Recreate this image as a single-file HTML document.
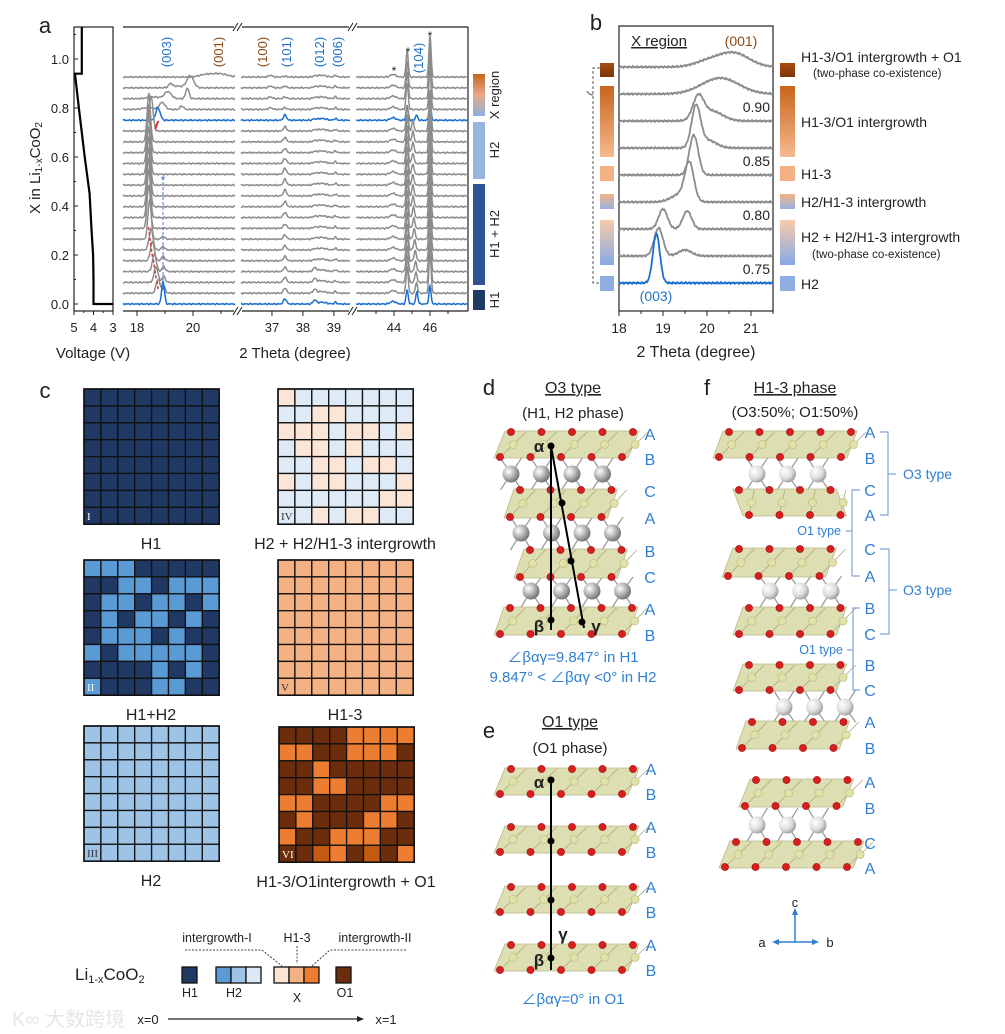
<!DOCTYPE html>
<html><head><meta charset="utf-8">
<style>
html,body{margin:0;padding:0;background:#fff;}
svg{display:block;font-family:"Liberation Sans","Noto Sans CJK SC",sans-serif;}
</style></head>
<body>
<svg id="fig" width="1005" height="1034" viewBox="0 0 1005 1034" xmlns="http://www.w3.org/2000/svg">
<defs>
<radialGradient id="sph" cx="0.35" cy="0.35" r="0.7"><stop offset="0" stop-color="#ffffff"/><stop offset="0.5" stop-color="#b8b8b8"/><stop offset="1" stop-color="#6e6e6e"/></radialGradient>
<radialGradient id="sphL" cx="0.35" cy="0.35" r="0.7"><stop offset="0" stop-color="#ffffff"/><stop offset="0.6" stop-color="#dcdcdc"/><stop offset="1" stop-color="#9a9a9a"/></radialGradient>
<linearGradient id="gX" x1="0" y1="0" x2="0" y2="1"><stop offset="0" stop-color="#c8651c"/><stop offset="0.5" stop-color="#e8a98a"/><stop offset="1" stop-color="#8eaee2"/></linearGradient>
<linearGradient id="gBrown" x1="0" y1="0" x2="0" y2="1"><stop offset="0" stop-color="#a84d12"/><stop offset="1" stop-color="#7a350a"/></linearGradient>
<linearGradient id="gOr" x1="0" y1="0" x2="0" y2="1"><stop offset="0" stop-color="#c8651c"/><stop offset="1" stop-color="#f6b98e"/></linearGradient>
<linearGradient id="gPB" x1="0" y1="0" x2="0" y2="1"><stop offset="0" stop-color="#f4b183"/><stop offset="1" stop-color="#9ab2e6"/></linearGradient>
<linearGradient id="gPB2" x1="0" y1="0" x2="0" y2="1"><stop offset="0" stop-color="#f8cba8"/><stop offset="1" stop-color="#86a9e6"/></linearGradient>
</defs>
<g id="root"></g>
</svg>
<script>
// ===== Panel a data =====
const voltV = [3.0, 4.0, 4.0, 4.02, 4.1, 4.2, 4.45, 4.6, 4.75, 4.95, 4.6, 4.6, 4.6];
const voltX = [0.0, 0.0, 0.1, 0.2, 0.3, 0.45, 0.6, 0.7, 0.8, 0.94, 0.94, 1.0, 1.13];
const yTicks = [0.0, 0.2, 0.4, 0.6, 0.8, 1.0];
const vTicks = [5, 4, 3];
const nTraces = 22;
const blueTraces = [0, 17];
const p003 = [18.93,18.75,18.68,18.62,18.55,18.5,18.45,18.42,18.42,18.42,18.42,18.42,18.42,18.42,18.42,18.42,18.5,18.75,18.9,19.1,19.9,20.9];
const h003 = [26,16,18,20,22,24,45,50,55,55,55,55,55,55,55,55,40,14,8,8,14,4];
const w003 = [0.05,0.07,0.07,0.07,0.07,0.07,0.06,0.06,0.06,0.06,0.06,0.06,0.06,0.06,0.06,0.06,0.07,0.08,0.1,0.12,0.12,0.3];
const p2nd = [0,18.95,18.95,18.95,18.93,18.93,18.93,0,0,0,0,0,0,0,0,0,0,0,19.6,19.8,19.2,0];
const h2nd = [0,8,7,6,5,4,3,0,0,0,0,0,0,0,0,0,0,0,4,12,4,0];
const p101 = 37.42;
const h101 = [6,6,6,5,5,5,5,5,6,6,7,7,7,6,5,5,5,6,2,2,2,1];
const p104 = [45.27,45.25,45.22,45.2,45.18,45.15,45.12,45.1,45.08,45.06,45.05,45.05,45.05,45.05,45.05,45.05,45.05,45.25,0,0,0,0];
const h104 = [14,12,12,12,12,12,12,12,12,12,12,12,12,12,12,12,12,6,0,0,0,0];
const starPos = [44.73, 46.0];
const starH = [30, 48];
const breakX = [[17.5,21.5],[36.0,39.52],[41.89,48.11]];
const xTicksA = [[18,19,20,21],[37,38,39],[43,44,45,46,47]];
const xLabA = [[18,20],[37,38,39],[44,46]];
// ===== Panel b data =====
const bLabels = ["0.90","0.85","0.80","0.75"];
const bPeaks = [
 [[20.6,14,0.35],[20.0,5,0.3]],
 [[20.3,16,0.42]],
 [[19.8,22,0.12],[20.1,10,0.25]],
 [[19.75,40,0.1],[20.0,8,0.2]],
 [[19.7,40,0.1]],
 [[19.6,36,0.1],[19.4,8,0.2]],
 [[19.0,20,0.1],[19.55,18,0.1]],
 [[18.9,28,0.1],[19.5,6,0.15]],
 [[18.85,49,0.08]]
];
const bTicks = [18,19,20,21];

const NS="http://www.w3.org/2000/svg";
const root=document.getElementById('root');
function el(tag,attrs,parent,text){const e=document.createElementNS(NS,tag);for(const k in attrs)e.setAttribute(k,attrs[k]);if(text!==undefined)e.textContent=text;(parent||root).appendChild(e);return e;}
function txt(x,y,s,size,opts,parent){opts=opts||{};const a={x:x,y:y,'font-size':size,fill:opts.fill||'#222','text-anchor':opts.anchor||'middle'};if(opts.rot)a.transform='rotate('+opts.rot+' '+x+' '+y+')';if(opts.weight)a['font-weight']=opts.weight;if(opts.deco)a['text-decoration']=opts.deco;const t=el('text',a,parent,s);return t;}
function g(name,parent){const e=el('g',{},parent);return e;}
const BLUE='#1f73c8', LBLUE='#2f7fd0', BROWN='#8b4a17';

// ===================== PANEL A =====================
const pa=g('panel-a');
let t=txt(45,33,'a',22,{},pa);
const TOP=27, BOT=311, HS=0.87;
const vx=v=>74+(5-v)*19.5, yA=x=>304-x*245;
const vp=g('voltage-plot',pa);
el('rect',{x:74,y:TOP,width:39,height:BOT-TOP,fill:'none',stroke:'#222','stroke-width':1.2},vp);
let d='';voltV.forEach((v,i)=>{d+=(i?'L':'M')+vx(v)+','+yA(voltX[i]);});
const vc=el('path',{d:d,fill:'none',stroke:'#000','stroke-width':2.2},vp);

yTicks.forEach(v=>{el('line',{x1:74,x2:78,y1:yA(v),y2:yA(v),stroke:'#222'},vp);txt(69,yA(v)+5,v.toFixed(1),13,{anchor:'end'},vp);});
[0.1,0.3,0.5,0.7,0.9,1.1].forEach(v=>el('line',{x1:74,x2:76,y1:yA(v),y2:yA(v),stroke:'#222'},vp));
vTicks.forEach(v=>{el('line',{x1:vx(v),x2:vx(v),y1:BOT,y2:BOT+4,stroke:'#222'},vp);txt(vx(v),332,String(v),13,{},vp);});
[4.5,3.5].forEach(v=>el('line',{x1:vx(v),x2:vx(v),y1:BOT,y2:BOT+2,stroke:'#222'},vp));
t=txt(40,168,'',15,{rot:-90},vp);
t.innerHTML='X in Li<tspan font-size="10" dy="2">1-x</tspan><tspan dy="-2">CoO</tspan><tspan font-size="10" dy="2">2</tspan>';
t=txt(93,358,'Voltage (V)',15,{},vp);

const segs=[[123,235],[241,350],[356,468]];
function sx(s,v){const b=breakX[s];return segs[s][0]+(v-b[0])/(b[1]-b[0])*(segs[s][1]-segs[s][0]);}
const baseY=i=>yA(i*0.75/17);
const xp=g('xrd-plot',pa);
segs.forEach((s,k)=>{
 el('line',{x1:s[0],x2:s[1],y1:TOP,y2:TOP,stroke:'#222','stroke-width':1.2},xp);
 el('line',{x1:s[0],x2:s[1],y1:BOT,y2:BOT,stroke:'#222','stroke-width':1.2},xp);
 xTicksA[k].forEach(v=>{const x=sx(k,v);el('line',{x1:x,x2:x,y1:BOT,y2:xLabA[k].includes(v)?BOT+5:BOT+3,stroke:'#222'},xp);});
 xLabA[k].forEach(v=>txt(sx(k,v),332,String(v),13,{},xp));
});
el('line',{x1:468,x2:468,y1:TOP,y2:BOT,stroke:'#222','stroke-width':1.2},xp);
[[236,TOP],[351,TOP],[236,BOT],[351,BOT]].forEach(p=>{el('rect',{x:p[0]-2,y:p[1]-4,width:8,height:8,fill:'#fff'},xp);
 el('line',{x1:p[0]-3,y1:p[1]+4,x2:p[0]+2,y2:p[1]-4,stroke:'#222'},xp);el('line',{x1:p[0]+1,y1:p[1]+4,x2:p[0]+6,y2:p[1]-4,stroke:'#222'},xp);});
const gauss=(x,c,h,w)=>h*Math.exp(-((x-c)*(x-c))/(2*w*w));
for(let i=nTraces-1;i>=0;i--){
 const isBlue=blueTraces.includes(i);
 const tg=g('xrd-trace-'+i,xp);
 for(let s=0;s<3;s++){
  let dd='';
  for(let px=segs[s][0];px<=segs[s][1];px+=0.5){
   const v=breakX[s][0]+(px-segs[s][0])/(segs[s][1]-segs[s][0])*(breakX[s][1]-breakX[s][0]);
   let y=0;
   if(s===0){y+=gauss(v,p003[i],h003[i],w003[i]);if(p2nd[i])y+=gauss(v,p2nd[i],h2nd[i],0.06);
     if(i>=18)y+=gauss(v,p003[i]-0.5,2,0.2);}
   if(s===1){y+=gauss(v,p101,h101[i],0.05);y+=gauss(v,38.6,2,0.15);y+=gauss(v,38.38,i<4?4:1,0.05);y+=gauss(v,39.05,2,0.04);if(i>=18)y+=gauss(v,36.95,2,0.06);}
   if(s===2){starPos.forEach((c,k)=>{y+=gauss(v,c,isBlue&&k===0?16:(isBlue?20:starH[k]),0.06);});if(p104[i])y+=gauss(v,p104[i],h104[i],0.06);y+=gauss(v,43.95,3,0.15);}
   y*=HS;
   y+=0.7*Math.sin(px*1.7+i)*Math.sin(px*0.37);
   dd+=(dd?'L':'M')+px.toFixed(1)+','+(baseY(i)-y).toFixed(1);
  }
  el('path',{d:dd,fill:'none',stroke:isBlue?'#1a6fd0':'#8c8c8c','stroke-width':1.5},tg);
 }
}
for(let i=1;i<=6;i++){const x=sx(0,p003[i]);el('line',{x1:x-1,y1:baseY(i)-12,x2:x,y2:baseY(i)-4,stroke:'#e03030','stroke-width':1.5,'stroke-dasharray':'3,2'},xp);}
el('line',{x1:sx(0,18.93),x2:sx(0,18.93),y1:baseY(11)-8,y2:baseY(1)-2,stroke:'#5a7fd0','stroke-width':1.1,'stroke-dasharray':'3,2'},xp);
txt(sx(0,18.93),baseY(11)-1,'*',12,{fill:'#5a7fd0'},xp);
el('path',{d:'M'+(sx(0,18.65))+','+(baseY(16)-2)+' l3,-8',stroke:'#e03030','stroke-width':2},xp);
[['(003)',166,BLUE],['(001)',218,BROWN],['(100)',262,BROWN],['(101)',286,BLUE],['(012)',319,BLUE],['(006)',337,BLUE],['(104)',418,BLUE]].forEach(p=>{
 const tt=txt(p[1]+5,p[0]==='(104)'?58:52,p[0],13,{rot:-90,fill:p[2]},xp);});
[[394,75],[408,56],[430,40]].forEach(p=>txt(p[0],p[1],'*',12,{},xp));
t=txt(295,358,'2 Theta (degree)',15,{},xp);
const cb=g('phase-colorbar',pa);
[[74,116,'url(#gX)','X region',95],[122,179,'#9ab4e0','H2',150],[184,285,'#2e5591','H1 + H2',234],[290,310,'#1f3864','H1',300]].forEach(r=>{
 const re=el('rect',{x:473,y:r[0],width:12,height:r[1]-r[0],fill:r[2]},cb);
 txt(499,r[4],r[3],13,{rot:-90},cb);
});

// ===================== PANEL B =====================
const pb=g('panel-b');
txt(596,30,'b',22,{},pb);
const bx=v=>619+(v-18)*44;
el('rect',{x:619,y:26,width:154,height:285,fill:'none',stroke:'#222','stroke-width':1.2},pb);
bTicks.forEach(v=>{el('line',{x1:bx(v),x2:bx(v),y1:311,y2:316,stroke:'#222'},pb);txt(bx(v),333,String(v),14,{},pb);});
[18.5,19.5,20.5,21.5].forEach(v=>el('line',{x1:bx(v),x2:bx(v),y1:311,y2:314,stroke:'#222'},pb));
t=txt(696,357,'2 Theta (degree)',16,{},pb);
bPeaks.forEach((pk,i)=>{
 const by=67+i*27;let dd='';
 for(let px=619;px<=773;px+=0.5){const v=18+(px-619)/44;let y=0;pk.forEach(p=>y+=gauss(v,p[0],p[1],p[2]));y+=0.9*Math.sin(px*2.3+i*3)*Math.cos(px*0.71);dd+=(dd?'L':'M')+px.toFixed(1)+','+(by-y).toFixed(1);}
 const pe=el('path',{d:dd,fill:'none',stroke:i===8?'#1a6fd0':'#8c8c8c','stroke-width':1.8},pb);
 
});
bLabels.forEach((l,k)=>txt(770,112+k*54,l,14,{anchor:'end'},pb));
txt(659,46,'X region',15,{deco:'underline'},pb);
txt(741,46,'(001)',14,{fill:BROWN},pb);
txt(656,301,'(003)',14,{fill:BLUE},pb);
const bars=[[63,77,'url(#gBrown)'],[86,157,'url(#gOr)'],[166,181,'#f4b183'],[194,209,'url(#gPB)'],[220,265,'url(#gPB2)'],[276,291,'#8eaee2']];
bars.forEach(b=>{el('rect',{x:600,y:b[0],width:14,height:b[1]-b[0],fill:b[2]},pb);el('rect',{x:780,y:b[0],width:15,height:b[1]-b[0],fill:b[2]},pb);});
el('path',{d:'M600,68 H593 V283 H600',fill:'none',stroke:'#555','stroke-dasharray':'3,2'},pb);
el('path',{d:'M593,95 q-4,0 -6,-4',fill:'none',stroke:'#555'},pb);
[['H1-3/O1 intergrowth + O1',801,62,14],['(two-phase co-existence)',813,77,11.5],['H1-3/O1 intergrowth',801,127,14],['H1-3',801,179,14],['H2/H1-3 intergrowth',801,207,14],['H2 + H2/H1-3 intergrowth',801,242,14],['(two-phase co-existence)',812,258,11.5],['H2',801,289,14]].forEach(l=>{
 const tt=txt(l[1],l[2],l[0],l[3],{anchor:'start'},pb);});

// ===================== PANEL C =====================
const pc=g('panel-c');
txt(45,398,'c',22,{},pc);
const C={D:'#1f3864',L:'#5b9bd5',S:'#9dc3e6',P:'#fbe5d6',B:'#deebf7',V:'#f4b183',R:'#6b2d0c',O:'#ed7d31',Q:'#c55a11'};
const grids=[
 {x:84,y:389,rows:Array(8).fill('DDDDDDDD'),lab:'I',name:'H1'},
 {x:278,y:389,rows:['PBBBBBBB','BBPPBBBB','PPPBPPBP','BPPBPBBB','BBPPBPPB','PBPPBBBP','BBBBBBPP','BBPBPPBB'],lab:'IV',name:'H2 + H2/H1-3 intergrowth'},
 {x:84,y:560,rows:['LLLDDDDD','DDLLDLLL','DLLDLLDL','DLDLLDLD','DLLLDLDD','LDLLLLLD','DDDDLDLD','LDDDLLDD'],lab:'II',name:'H1+H2'},
 {x:278,y:560,rows:Array(8).fill('VVVVVVVV'),lab:'V',name:'H1-3'},
 {x:84,y:726,rows:Array(8).fill('SSSSSSSS'),lab:'III',name:'H2'},
 {x:279,y:727,rows:['RRRROOOO','OORROOOR','RRORRRRR','RROORRRR','OORRRROO','RORRROOR','ORROOORR','RRQORQRO'],lab:'VI',name:'H1-3/O1intergrowth + O1'}
];
grids.forEach(G=>{
 const gg=g('grid-'+G.lab.toLowerCase(),pc);
 const cs=16.9;
 G.rows.forEach((r,ri)=>{for(let ci=0;ci<8;ci++){el('rect',{x:G.x+ci*cs,y:G.y+ri*cs,width:cs,height:cs,fill:C[r[ci]],stroke:'#111','stroke-width':1.3},gg);}});
 el('rect',{x:G.x,y:G.y,width:cs*8,height:cs*8,fill:'none',stroke:'#111','stroke-width':1.6},gg);
 const dark=['I','II','VI'].includes(G.lab);
 txt(G.x+3,G.y+8*cs-4,G.lab,11,{anchor:'start',fill:dark?'#fff':'#333'},gg).setAttribute('font-family','Liberation Serif, serif');
 const lt=txt(G.x+67,G.y+cs*8+25,G.name,16,{},gg);
});
const lg=g('composition-legend',pc);
txt(217,942,'intergrowth-I',12.5,{},lg);txt(297,942,'H1-3',12.5,{},lg);txt(375,942,'intergrowth-II',12.5,{},lg);
el('path',{d:'M185,950 H262 L282,966',fill:'none',stroke:'#444','stroke-dasharray':'2,1.5'},lg);
el('path',{d:'M297,946 V964',fill:'none',stroke:'#444','stroke-dasharray':'2,1.5'},lg);
el('path',{d:'M406,950 H330 L312,966',fill:'none',stroke:'#444','stroke-dasharray':'2,1.5'},lg);
t=txt(75,980,'',17,{anchor:'start'},lg);t.innerHTML='Li<tspan font-size="11" dy="3">1-x</tspan><tspan dy="-3">CoO</tspan><tspan font-size="11" dy="3">2</tspan>';
[[182,C.D],[216,C.L],[231,C.S],[246,'#dce8f6'],[274,C.P],[289,C.V],[304,C.O],[336,C.R]].forEach(b=>el('rect',{x:b[0],y:967,width:15,height:16,fill:b[1],stroke:'#111','stroke-width':1.3},lg));
txt(190,997,'H1',12.5,{},lg);txt(234,997,'H2',12.5,{},lg);txt(297,1002,'X',12.5,{},lg);txt(345,997,'O1',12.5,{},lg);
txt(148,1024,'x=0',13,{},lg);txt(386,1024,'x=1',13,{},lg);
el('line',{x1:168,x2:358,y1:1019,y2:1019,stroke:'#222','stroke-width':1.3},lg);
el('path',{d:'M364,1019 l-7,-3 v6 z',fill:'#222'},lg);
txt(12,1026,'K∞ 大数跨境',20,{anchor:'start',fill:'#e6e6e6'},lg);

// ===================== STRUCTURES =====================
function slab(parent,xT,yT,nT,xB,yB,nB){
 const sp=30.5;
 el('polygon',{points:[xB-6,yB+1, xB+(nB-1)*sp+6,yB+1, xT+(nT-1)*sp+6,yT-1, xT-6,yT-1].join(','),fill:'#d8d8a6','fill-opacity':0.85,stroke:'#b9b98a','stroke-width':0.8},parent);
 for(let k=0;k<nB;k++){const x=xB+k*sp;el('line',{x1:x,y1:yB,x2:x+(xT-xB)+sp/2,y2:yT,stroke:'#a9a97a','stroke-width':0.8},parent);
   el('circle',{cx:x+(xT-xB)/2+sp/4,cy:(yT+yB)/2,r:4,fill:'#e2e2a8',stroke:'#c2c28c','stroke-width':0.8},parent);}
 for(let k=0;k<nT;k++)el('circle',{cx:xT+k*sp,cy:yT,r:3.6,fill:'#d81e1e',stroke:'#9a1010','stroke-width':0.6},parent);
 for(let k=0;k<nB;k++)el('circle',{cx:xB+k*sp,cy:yB,r:3.6,fill:'#d81e1e',stroke:'#9a1010','stroke-width':0.6},parent);
}
function spheres(parent,x0,y,n,yUp,yDn,light){
 for(let k=0;k<n;k++){const x=x0+k*30.5;
  [[-15,yUp],[15,yUp],[-15,yDn],[15,yDn]].forEach(o=>{el('line',{x1:x,y1:y,x2:x+o[0]*0.7,y2:o[1],stroke:'#999','stroke-width':1.2},parent);});
  el('circle',{cx:x,cy:y,r:8.5,fill:light?'url(#sphL)':'url(#sph)'},parent);}
}
function letters(parent,x,list){list.forEach(l=>txt(x,l[1]+6,l[0],16,{fill:LBLUE},parent));}

const pd=g('panel-d');
txt(489,395,'d',22,{},pd);
txt(573,393,'O3 type',16,{deco:'underline'},pd);
txt(573,418,'(H1, H2 phase)',15,{},pd);
spheres(pd,511,474,4,458,490);spheres(pd,521,533,4,517,550);spheres(pd,531,591,4,577,608);
slab(pd,511,432,5,500,457,5);slab(pd,520,490,4,510,517,4);slab(pd,530,550,4,520,577,4);slab(pd,510,608,5,500,634,5);
letters(pd,650,[['A',434],['B',459],['C',491],['A',518],['B',551],['C',577],['A',609],['B',635]]);
el('line',{x1:551,y1:446,x2:551,y2:630,stroke:'#000','stroke-width':2},pd);
el('line',{x1:551,y1:446,x2:584,y2:628,stroke:'#000','stroke-width':2},pd);
[[551,446],[551,620],[562,503],[571,561],[582,622]].forEach(p=>el('circle',{cx:p[0],cy:p[1],r:3.5,fill:'#000'},pd));
txt(539,452,'α',17,{weight:'bold'},pd);txt(539,632,'β',17,{weight:'bold'},pd);txt(596,632,'γ',17,{weight:'bold'},pd);
txt(573,662,'∠βαγ=9.847° in H1',15,{fill:LBLUE},pd);
txt(573,682,'9.847° < ∠βαγ <0° in H2',15,{fill:LBLUE},pd);

const pe=g('panel-e');
txt(489,738,'e',22,{},pe);
txt(570,727,'O1 type',16,{deco:'underline'},pe);
txt(570,753,'(O1 phase)',15,{},pe);
[769,827,887,945].forEach(y=>slab(pe,511,y,5,500,y+25,5));
letters(pe,651,[['A',769],['B',794],['A',827],['B',852],['A',887],['B',912],['A',945],['B',970]]);
el('line',{x1:551,y1:780,x2:551,y2:970,stroke:'#000','stroke-width':2},pe);
[[551,780],[551,841],[551,900],[551,958]].forEach(p=>el('circle',{cx:p[0],cy:p[1],r:3.5,fill:'#000'},pe));
txt(539,788,'α',17,{weight:'bold'},pe);txt(539,966,'β',17,{weight:'bold'},pe);txt(563,940,'γ',17,{weight:'bold'},pe);
txt(573,1004,'∠βαγ=0° in O1',15,{fill:LBLUE},pe);

const pf=g('panel-f');
txt(707,395,'f',22,{},pf);
txt(795,393,'H1-3 phase',16,{deco:'underline'},pf);
txt(795,417,'(O3:50%; O1:50%)',15,{},pf);
spheres(pf,757,474,3,458,490,true);spheres(pf,770,591,3,576,608,true);spheres(pf,784,707,3,690,722,true);spheres(pf,757,825,3,808,842,true);
slab(pf,729,432,5,719,457,5);slab(pf,739,490,4,749,515,4);slab(pf,739,549,4,728,576,4);slab(pf,749,608,4,739,634,4);
slab(pf,749,665,4,739,690,4);slab(pf,752,722,4,742,748,4);slab(pf,756,780,4,745,806,4);slab(pf,736,842,5,725,867,5);
letters(pf,870,[['A',432],['B',458],['C',490],['A',515],['C',549],['A',576],['B',608],['C',634],['B',665],['C',690],['A',722],['B',748],['A',782],['B',808],['C',843],['A',868]]);
const br='#7fa6d8';
el('path',{d:'M880,432 H888 V515 H880 M888,474 H896',fill:'none',stroke:br,'stroke-width':1.2},pf);
el('path',{d:'M860,490 H852 V576 H860 M852,531 H846',fill:'none',stroke:br,'stroke-width':1.2},pf);
el('path',{d:'M880,549 H889 V634 H880 M889,590 H897',fill:'none',stroke:br,'stroke-width':1.2},pf);
el('path',{d:'M860,608 H853 V690 H860 M853,650 H847',fill:'none',stroke:br,'stroke-width':1.2},pf);
txt(903,479,'O3 type',14,{anchor:'start',fill:LBLUE},pf);txt(903,595,'O3 type',14,{anchor:'start',fill:LBLUE},pf);
txt(841,535,'O1 type',12.5,{anchor:'end',fill:LBLUE},pf);txt(843,654,'O1 type',12.5,{anchor:'end',fill:LBLUE},pf);
const ax=g('axis-triad',pf);
el('line',{x1:795,y1:942,x2:795,y2:912,stroke:LBLUE,'stroke-width':1.5},ax);el('path',{d:'M795,908 l-3,7 h6 z',fill:LBLUE},ax);
el('line',{x1:777,y1:942,x2:814,y2:942,stroke:LBLUE,'stroke-width':1.5},ax);
el('path',{d:'M772,942 l7,-3 v6 z',fill:LBLUE},ax);el('path',{d:'M819,942 l-7,-3 v6 z',fill:LBLUE},ax);
txt(795,907,'c',13,{},ax);txt(762,947,'a',13,{},ax);txt(830,947,'b',13,{},ax);
</script>
</body></html>
